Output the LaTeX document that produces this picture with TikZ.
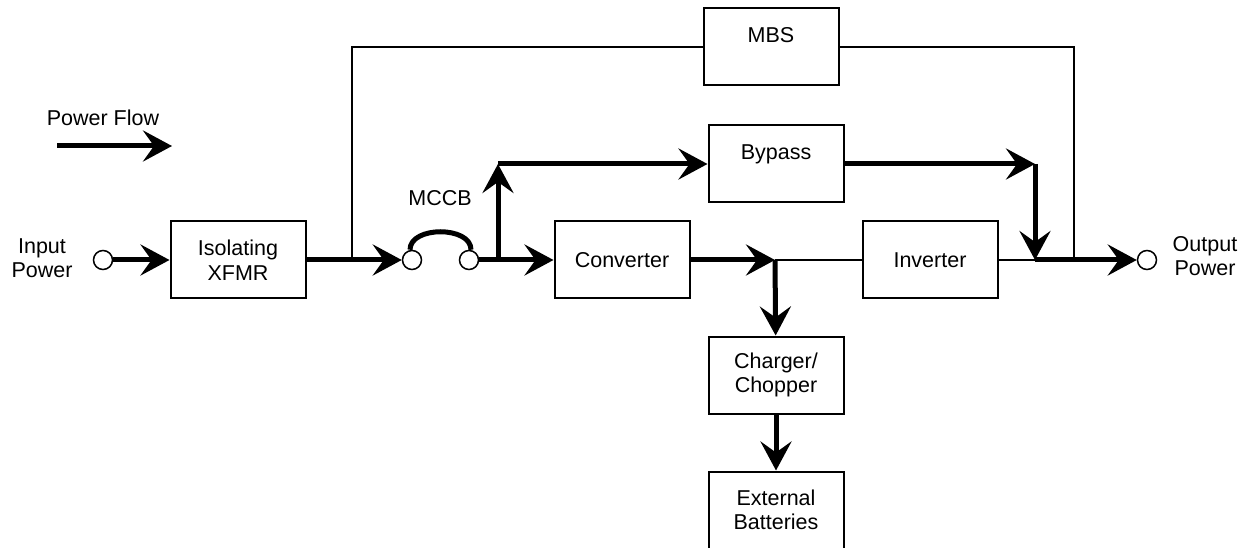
\documentclass[tikz,border=0pt]{standalone}
\usepackage{fontspec}
\setmainfont{Liberation Sans}
\usetikzlibrary{arrows.meta}

\begin{document}
\begin{tikzpicture}[x=1pt,y=-1pt,
  every node/.style={font=\fontsize{21.5}{24.5}\selectfont, align=center},
  box/.style={draw, line width=2pt, minimum width=135pt, minimum height=77pt, inner sep=0pt},
  term/.style={draw, circle, line width=1.5pt, minimum size=19pt, inner sep=0pt},
  wire/.style={line width=1.3pt},
  heavy/.style={line width=5pt},
  flow/.style={heavy, -{Stealth[length=29pt,width=31pt,inset=11pt]}}]
\useasboundingbox (0,0) rectangle (1251,548);
% legend
\node (pflbl) at (103,118) {Power Flow};
\coordinate (pfa) at (57,146);
\coordinate (pfb) at (172,146);
\draw[flow] (pfa) -- (pfb);
% terminals and blocks
\node (inlbl) at (42,258) {Input\\Power};
\node[term] (inpt) at (103,260) {};
\node[box] (xfmr) at (238,260) {Isolating\\XFMR};
\node (mccblbl) at (440,198) {MCCB};
\node[term] (mccbL) at (412,260) {};
\node[term] (mccbR) at (469,260) {};
\node[box] (conv) at (622,260) {Converter};
\node[box] (bypass) at (776,164) {Bypass\\~};
\node[box] (mbs) at (771,47) {MBS\\~};
\node[box] (inv) at (930,260) {Inverter};
\node[box] (chg) at (776,375) {Charger/\\Chopper};
\node[box] (batt) at (776,510) {External\\Batteries};
\node[term] (outp) at (1147,260) {};
\node (outlbl) at (1205,256) {Output\\Power};
% junctions
\coordinate (tapin) at (352,260);
\coordinate (branch) at (498,260);
\coordinate (bpcorner) at (498,164);
\coordinate (dcbus) at (775,260);
\coordinate (bpdrop) at (1035,164);
\coordinate (acbus) at (1035,260);
\coordinate (mbstap) at (1074,260);
% connections
\draw[flow] (inpt) -- (xfmr);
\draw[heavy] (xfmr) -- (tapin);
\draw[flow] (tapin) -- (mccbL);
\draw[heavy] ([xshift=-2pt]mccbL.north) .. controls +(0,-24) and +(0,-24) .. ([xshift=2pt]mccbR.north);
\draw[heavy] (mccbR) -- (branch);
\draw[flow] (branch) -- (conv);
\draw[flow] (branch) -- (bpcorner);
\draw[flow] (bpcorner) -- (bypass);
\draw[flow] (conv) -- (dcbus);
\draw[wire] (dcbus) -- (inv);
\draw[flow] (dcbus) -- (chg);
\draw[flow] (chg) -- (batt);
\draw[wire] (inv) -- (acbus);
\draw[flow] (bypass) -- (bpdrop);
\draw[flow] (bpdrop) -- (acbus);
\draw[flow] (acbus) -- (outp);
\draw[wire] (tapin) |- (mbs);
\draw[wire] (mbs) -| (mbstap);
\end{tikzpicture}
\end{document}
